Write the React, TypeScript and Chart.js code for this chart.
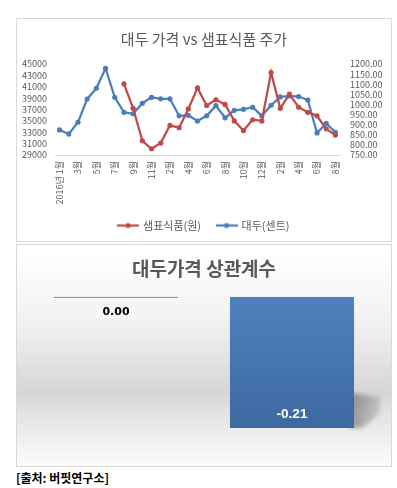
import React, { useEffect, useRef } from "react";
import { Chart, registerables } from "chart.js";

Chart.register(...registerables);

// ---------- data ----------
const months: string[] = [
  "2016년 1월", "2월", "3월", "4월", "5월", "6월", "7월", "8월", "9월", "10월", "11월",
  "2017년 1월", "2월", "3월", "4월", "5월", "6월", "7월", "8월", "9월", "10월", "11월", "12월",
  "2018년 1월", "2월", "3월", "4월", "5월", "6월", "7월", "8월",
];

// 샘표식품 주가 (원) - left axis
const sempioPrice: (number | null)[] = [
  null, null, null, null, null, null, null,
  41500, 37200, 31500, 30100, 31100, 34200, 33800, 37100, 40800,
  37700, 38700, 37900, 35000, 33300, 35200, 35000, 43500,
  37200, 39700, 37400, 36500, 35900, 33600, 32500,
];

// 대두 가격 (센트) - right axis
const soybeanPrice: number[] = [
  874, 854, 912, 1027, 1080, 1179, 1035, 961, 954, 1006, 1035,
  1028, 1028, 944, 946, 918, 944, 994, 934, 971, 976, 986, 944,
  996, 1037, 1042, 1039, 1022, 859, 907, 862,
];

const leftTicks = { min: 29000, max: 45000, step: 2000 };
const rightTicks = { min: 750, max: 1200, step: 50 };

const corrLabels: string[] = ["샘표식품", "대상"];
const corrValues: number[] = [0.0, -0.21];

// ---------- styles ----------
const FONT = '"Noto Sans CJK KR", "Noto Sans", sans-serif';
const GRAY = "#595959";
const RED = "#be4b48";
const BLUE = "#4a7ebb";

function legendMarker(color: string): HTMLCanvasElement {
  const c = document.createElement("canvas");
  c.width = 22;
  c.height = 8;
  const ctx = c.getContext("2d")!;
  ctx.strokeStyle = color;
  ctx.lineWidth = 2.25;
  ctx.beginPath();
  ctx.moveTo(0, 4);
  ctx.lineTo(22, 4);
  ctx.stroke();
  ctx.fillStyle = color;
  ctx.beginPath();
  ctx.arc(11, 4, 2.6, 0, Math.PI * 2);
  ctx.fill();
  return c;
}

function LineChart() {
  const ref = useRef<HTMLCanvasElement>(null);
  useEffect(() => {
    const markers = [legendMarker(RED), legendMarker(BLUE)];
    const chart = new Chart(ref.current!, {
      type: "line",
      data: {
        labels: months,
        datasets: [
          {
            label: "샘표식품(원)",
            data: sempioPrice,
            yAxisID: "y",
            borderColor: RED,
            backgroundColor: RED,
            pointBackgroundColor: RED,
            pointBorderColor: RED,
            borderWidth: 2.25,
            pointRadius: 2.6,
            pointBorderWidth: 0,
            tension: 0,
          },
          {
            label: "대두(센트)",
            data: soybeanPrice,
            yAxisID: "y1",
            borderColor: BLUE,
            backgroundColor: BLUE,
            pointBackgroundColor: BLUE,
            pointBorderColor: BLUE,
            borderWidth: 2.25,
            pointRadius: 2.6,
            pointBorderWidth: 0,
            tension: 0,
          },
        ],
      },
      options: {
        responsive: false,
        animation: false,
        layout: { padding: 0 },
        plugins: {
          title: {
            display: true,
            text: "대두 가격 vs 샘표식품 주가",
            color: GRAY,
            font: { size: 15, family: FONT, weight: "normal" },
            padding: { top: 11, bottom: 16 },
          },
          legend: {
            position: "bottom",
            labels: {
              usePointStyle: true,
              pointStyleWidth: 19,
              padding: 16,
              color: GRAY,
              font: { size: 11, family: FONT },
              generateLabels: (c: any) => {
                const items = Chart.defaults.plugins.legend.labels.generateLabels(c);
                items.forEach((it: any, i: number) => {
                  it.pointStyle = markers[i];
                });
                return items;
              },
            },
          },
          tooltip: { enabled: false },
        },
        scales: {
          x: {
            type: "category",
            offset: true,
            grid: { display: false, drawTicks: false },
            border: { display: true, color: "#d9d9d9", width: 1 },
            ticks: {
              autoSkip: false,
              maxRotation: 90,
              minRotation: 90,
              padding: 6,
              color: GRAY,
              font: { size: 9, family: FONT },
              callback: (_v: any, i: number) => (i % 2 === 0 ? months[i] : ""),
            },
            afterFit: (s: any) => {
              s.height = 49;
            },
          },
          y: {
            position: "left",
            min: leftTicks.min,
            max: leftTicks.max,
            grid: { display: false, drawTicks: false },
            border: { display: false },
            ticks: {
              stepSize: leftTicks.step,
              autoSkip: false,
              padding: 8,
              color: GRAY,
              font: { size: 9, family: FONT },
              callback: (v: any) => String(v),
            },
            afterFit: (s: any) => {
              s.width = 38;
            },
          },
          y1: {
            position: "right",
            min: rightTicks.min,
            max: rightTicks.max,
            grid: { display: false, drawTicks: false },
            border: { display: false },
            ticks: {
              stepSize: rightTicks.step,
              autoSkip: false,
              padding: 10,
              color: GRAY,
              font: { size: 9, family: FONT },
              callback: (v: any) => Number(v).toFixed(2),
            },
            afterFit: (s: any) => {
              s.width = 51;
            },
          },
        },
      } as any,
    });
    return () => chart.destroy();
  }, []);
  return <canvas ref={ref} width={374} height={222} style={{ width: 374, height: 222, display: "block" }} />;
}

const bgPlugin = {
  id: "bgGradient",
  beforeDraw(chart: any) {
    const { ctx, width, height } = chart;
    const g = ctx.createLinearGradient(0, 0, 0, height);
    g.addColorStop(0, "#ffffff");
    g.addColorStop(0.07, "#fefefe");
    g.addColorStop(0.4, "#eeeeee");
    g.addColorStop(0.67, "#d5d5d5");
    g.addColorStop(0.75, "#e2e2e2");
    g.addColorStop(1, "#fcfcfc");
    ctx.save();
    ctx.fillStyle = g;
    ctx.fillRect(0, 0, width, height);
    ctx.restore();
  },
};

const shadowPlugin = {
  id: "barShadow",
  beforeDatasetsDraw(chart: any) {
    const meta = chart.getDatasetMeta(0);
    const ctx = chart.ctx;
    meta.data.forEach((bar: any, i: number) => {
      if (corrValues[i] >= 0) return;
      const { x, y, width } = bar.getProps(["x", "y", "width"], true);
      const r = x + width / 2;
      ctx.save();
      ctx.filter = "blur(2px)";
      const g = ctx.createLinearGradient(r, 0, r + 26, 0);
      g.addColorStop(0, "rgba(0,0,0,0.32)");
      g.addColorStop(1, "rgba(0,0,0,0.12)");
      ctx.fillStyle = g;
      ctx.beginPath();
      ctx.moveTo(r - 4, y - 35);
      ctx.lineTo(r + 26, y - 31);
      ctx.lineTo(r + 26, y - 15);
      ctx.lineTo(r + 8, y);
      ctx.lineTo(r - 4, y);
      ctx.closePath();
      ctx.fill();
      ctx.restore();
    });
  },
};

const valueLabelPlugin = {
  id: "valueLabels",
  afterDatasetsDraw(chart: any) {
    const meta = chart.getDatasetMeta(0);
    const ctx = chart.ctx;
    const yScale = chart.scales.y;
    meta.data.forEach((bar: any, i: number) => {
      const v = corrValues[i];
      const { x } = bar.getProps(["x"], true);
      const py = yScale.getPixelForValue(v);
      ctx.save();
      ctx.textAlign = "center";
      ctx.textBaseline = "middle";
      if (v === 0) {
        ctx.fillStyle = "#000000";
        ctx.font = 'bold 11px "DejaVu Sans"';
        ctx.fillText(v.toFixed(2), x, py + 15);
      } else {
        ctx.fillStyle = "#ffffff";
        ctx.font = 'bold 13.5px "Liberation Sans"';
        ctx.fillText(v.toFixed(2), x, py - 14);
      }
      ctx.restore();
    });
  },
};

function BarChart() {
  const ref = useRef<HTMLCanvasElement>(null);
  useEffect(() => {
    const chart = new Chart(ref.current!, {
      type: "bar",
      data: {
        labels: corrLabels,
        datasets: [
          {
            data: corrValues,
            backgroundColor: (c: any) => {
              const v = corrValues[c.dataIndex];
              if (v === 0) return "#4a78b3";
              const area = c.chart.chartArea;
              if (!area) return "#4a78b3";
              const g = c.chart.ctx.createLinearGradient(0, area.top, 0, area.bottom);
              g.addColorStop(0, "#4f81bd");
              g.addColorStop(1, "#3a649b");
              return g;
            },
            borderWidth: 0,
            minBarLength: 1,
            categoryPercentage: 1,
            barPercentage: 0.705,
          },
        ],
      },
      options: {
        responsive: false,
        animation: false,
        layout: { padding: { left: 11, right: 11, top: 0, bottom: 13 } },
        plugins: {
          legend: { display: false },
          tooltip: { enabled: false },
          title: {
            display: true,
            text: "대두가격 상관계수",
            color: GRAY,
            font: { size: 19, family: FONT, weight: "bold" },
            padding: { top: 12, bottom: 17 },
          },
        },
        scales: {
          x: {
            position: { y: 0 },
            grid: { display: false, drawTicks: false },
            border: { display: false },
            ticks: { color: "#ffffff", padding: 10, font: { size: 11.5, family: FONT } },
          },
          y: { display: false, min: -0.25, max: 0 },
        },
      } as any,
      plugins: [bgPlugin, shadowPlugin, valueLabelPlugin],
    });
    return () => chart.destroy();
  }, []);
  return <canvas ref={ref} width={374} height={221} style={{ width: 374, height: 221, display: "block" }} />;
}

export default function App() {
  const box: React.CSSProperties = {
    position: "absolute",
    left: 16,
    width: 374,
    border: "1px solid #d9d9d9",
    background: "#ffffff",
  };
  return (
    <div style={{ position: "absolute", left: 0, top: 0, width: 397, height: 488, background: "#ffffff" }}>
      <div style={{ ...box, top: 18, height: 222 }}>
        <LineChart />
      </div>
      <div style={{ ...box, top: 244, height: 221 }}>
        <BarChart />
      </div>
      <div
        style={{
          position: "absolute",
          left: 16,
          top: 469,
          fontFamily: FONT,
          fontWeight: "bold",
          fontSize: 12,
          lineHeight: "18px",
          color: "#000000",
          whiteSpace: "nowrap",
        }}
      >
        [출처: 버핏연구소]
      </div>
    </div>
  );
}
